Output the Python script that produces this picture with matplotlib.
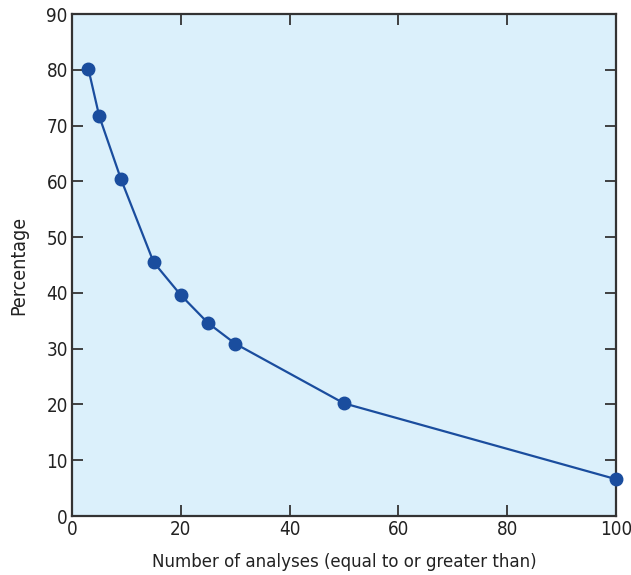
import matplotlib.pyplot as plt

# values
analyses = [3, 5, 9, 15, 20, 25, 30, 50, 100]
percentage = [80.2, 71.7, 60.4, 45.5, 39.6, 34.6, 30.9, 20.2, 6.6]

x_ticks = [0, 20, 40, 60, 80, 100]
y_ticks = [0, 10, 20, 30, 40, 50, 60, 70, 80, 90]

plt.rcParams['font.family'] = ['DejaVu Sans']
plt.rcParams['font.stretch'] = 'condensed'

line_color = "#1a4d9e"
bg_color = "#dbf0fb"

fig = plt.figure(figsize=(6.31, 5.75), dpi=100)
ax = fig.add_axes([72 / 631, 1 - 516 / 575, 544 / 631, 502 / 575])
ax.set_facecolor(bg_color)

ax.plot(analyses, percentage, color=line_color, lw=1.6, marker="o",
        markersize=9, markerfacecolor=line_color, markeredgecolor=line_color,
        clip_on=False, zorder=3)

ax.set_xlim(0, 100)
ax.set_ylim(0, 90)
ax.set_xticks(x_ticks)
ax.set_yticks(y_ticks)
ax.tick_params(direction="in", length=8, width=1.3, color="#333333",
               labelsize=13.5, top=True, right=True, pad=3, labelcolor="#222222")
for s in ax.spines.values():
    s.set_linewidth(1.6)
    s.set_color("#333333")

ax.set_xlabel("Number of analyses (equal to or greater than)", fontsize=13.3,
              color="#222222", labelpad=10)
ax.set_ylabel("Percentage", fontsize=14, color="#222222", labelpad=13)

fig.savefig("out.png", dpi=100)
